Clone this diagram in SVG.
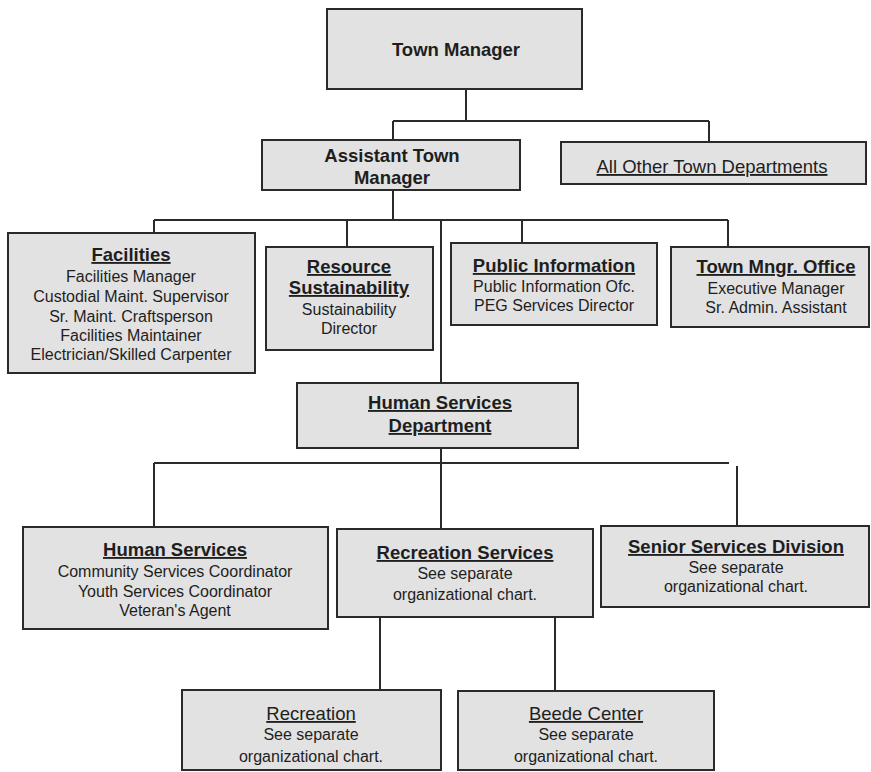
<svg xmlns="http://www.w3.org/2000/svg" width="871" height="772" viewBox="0 0 871 772">
  <style>
    .box { fill: #e2e2e2; stroke: #2a2a2a; stroke-width: 2; }
    .wire { fill: none; stroke: #2a2a2a; stroke-width: 2; }
    text { font-family: "Liberation Sans", Arial, sans-serif; fill: #1e1e1e; text-anchor: middle; }
    .t { font-size: 18.5px; font-weight: bold; }
    .u { text-decoration: underline; }
    .b { font-size: 16px; }
    .r { font-size: 18.5px; }
  </style>
  <rect width="871" height="772" fill="#ffffff"/>

  <!-- reporting lines -->
  <g id="connectors">
    <path class="wire" d="M466 89V121M393 121H709M393 121V140M709 121V142"/>
    <path class="wire" d="M393 190V220M154 220H728M154 220V233M347 220V247M522 220V243M728 220V247M441 220V383"/>
    <path class="wire" d="M441 448V529M154 463H729M154 463V527M737 466V526"/>
    <path class="wire" d="M380 617V690M555 617V691"/>
  </g>

  <g id="town-manager">
    <rect class="box" x="327" y="9" width="255" height="80"/>
    <text class="t" x="456" y="56">Town Manager</text>
  </g>

  <g id="assistant-town-manager">
    <rect class="box" x="262" y="140" width="258" height="50"/>
    <text class="t" x="392" y="162">Assistant Town</text>
    <text class="t" x="392" y="184">Manager</text>
  </g>

  <g id="other-departments">
    <rect class="box" x="561" y="142" width="305" height="42"/>
    <text class="r u" x="712" y="173">All Other Town Departments</text>
  </g>

  <g id="facilities">
    <rect class="box" x="8" y="233" width="247" height="140"/>
    <text class="t u" x="131" y="261">Facilities</text>
    <text class="b" x="131" y="282">Facilities Manager</text>
    <text class="b" x="131" y="302">Custodial Maint. Supervisor</text>
    <text class="b" x="131" y="322">Sr. Maint. Craftsperson</text>
    <text class="b" x="131" y="341">Facilities Maintainer</text>
    <text class="b" x="131" y="360">Electrician/Skilled Carpenter</text>
  </g>

  <g id="resource-sustainability">
    <rect class="box" x="266" y="247" width="167" height="103"/>
    <text class="t u" x="349" y="273">Resource</text>
    <text class="t u" x="349" y="294">Sustainability</text>
    <text class="b" x="349" y="315">Sustainability</text>
    <text class="b" x="349" y="334">Director</text>
  </g>

  <g id="public-information">
    <rect class="box" x="451" y="243" width="206" height="82"/>
    <text class="t u" x="554" y="272">Public Information</text>
    <text class="b" x="554" y="292">Public Information Ofc.</text>
    <text class="b" x="554" y="311">PEG Services Director</text>
  </g>

  <g id="town-manager-office">
    <rect class="box" x="671" y="247" width="198" height="80"/>
    <text class="t u" x="776" y="273">Town Mngr. Office</text>
    <text class="b" x="776" y="294">Executive Manager</text>
    <text class="b" x="776" y="313">Sr. Admin. Assistant</text>
  </g>

  <g id="human-services-department">
    <rect class="box" x="297" y="383" width="281" height="65"/>
    <text class="t u" x="440" y="409">Human Services</text>
    <text class="t u" x="440" y="432">Department</text>
  </g>

  <g id="human-services">
    <rect class="box" x="23" y="527" width="305" height="102"/>
    <text class="t u" x="175" y="556">Human Services</text>
    <text class="b" x="175" y="577">Community Services Coordinator</text>
    <text class="b" x="175" y="597">Youth Services Coordinator</text>
    <text class="b" x="175" y="616">Veteran's Agent</text>
  </g>

  <g id="recreation-services">
    <rect class="box" x="337" y="529" width="256" height="88"/>
    <text class="t u" x="465" y="559">Recreation Services</text>
    <text class="b" x="465" y="579">See separate</text>
    <text class="b" x="465" y="600">organizational chart.</text>
  </g>

  <g id="senior-services">
    <rect class="box" x="601" y="526" width="268" height="81"/>
    <text class="t u" x="736" y="553">Senior Services Division</text>
    <text class="b" x="736" y="573">See separate</text>
    <text class="b" x="736" y="592">organizational chart.</text>
  </g>

  <g id="recreation">
    <rect class="box" x="182" y="690" width="259" height="80"/>
    <text class="r u" x="311" y="720">Recreation</text>
    <text class="b" x="311" y="740">See separate</text>
    <text class="b" x="311" y="762">organizational chart.</text>
  </g>

  <g id="beede-center">
    <rect class="box" x="458" y="691" width="256" height="79"/>
    <text class="r u" x="586" y="720">Beede Center</text>
    <text class="b" x="586" y="740">See separate</text>
    <text class="b" x="586" y="762">organizational chart.</text>
  </g>
</svg>
